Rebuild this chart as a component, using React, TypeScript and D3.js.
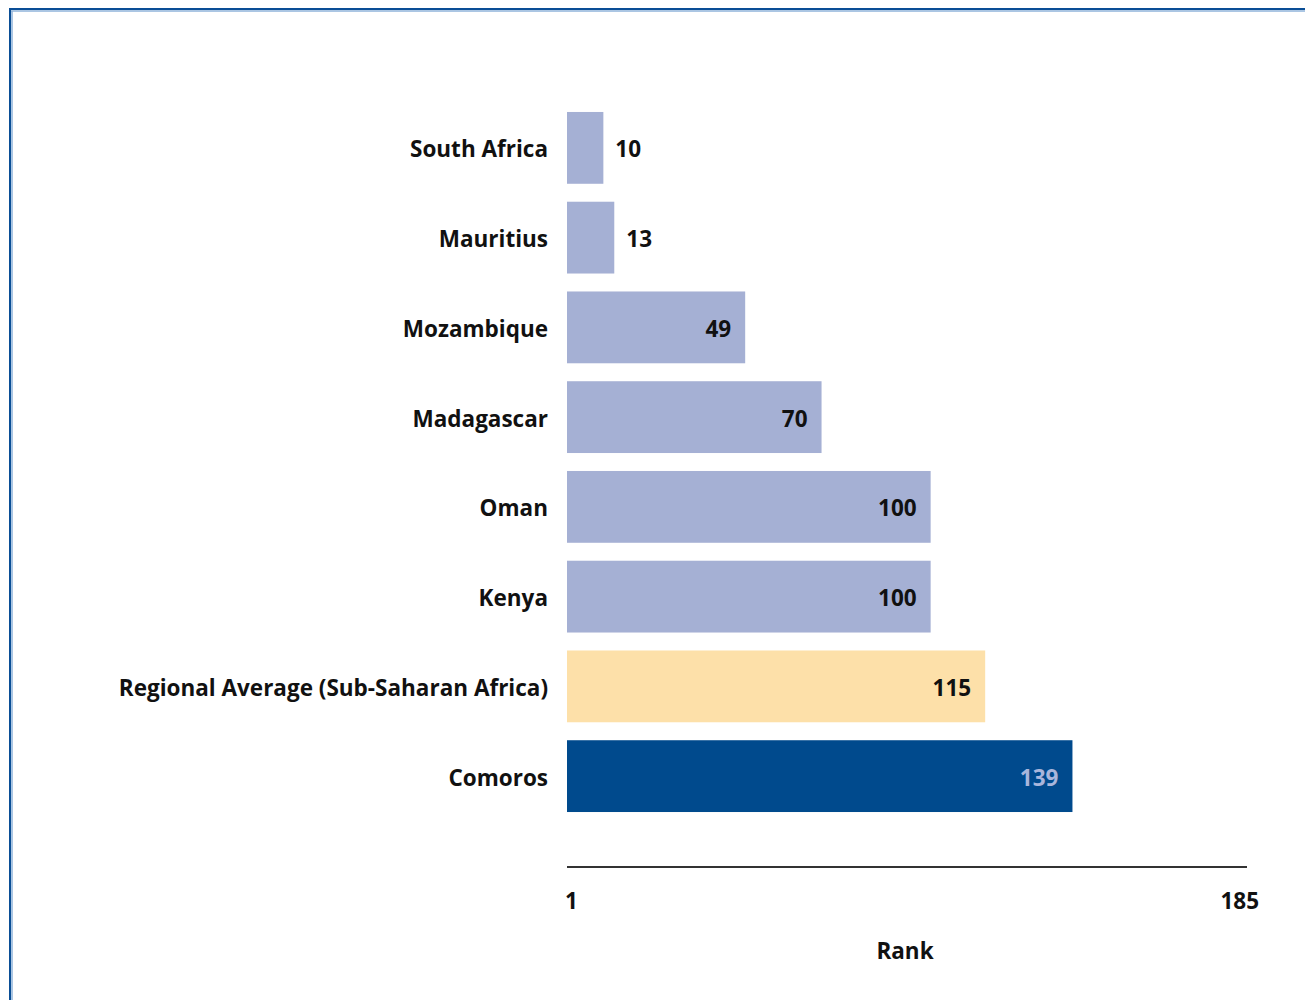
import React from "react";
import * as d3 from "d3";

const categories = [
  "South Africa",
  "Mauritius",
  "Mozambique",
  "Madagascar",
  "Oman",
  "Kenya",
  "Regional Average (Sub-Saharan Africa)",
  "Comoros",
];
const values = [10, 13, 49, 70, 100, 100, 115, 139];
const kinds = ["peer", "peer", "peer", "peer", "peer", "peer", "region", "focus"];
const axisTicks = [1, 185];
const axisTitle = "Rank";

const W = 1305;
const H = 1000;
const FONT = "'Open Sans', sans-serif";
const FS = 22.5;

const fillFor: Record<string, string> = {
  peer: "#a5b0d4",
  region: "#fde0a9",
  focus: "#004a8d",
};

export default function App() {
  const x = d3.scaleLinear().domain([0, 187]).range([567, 1247]);
  const y = d3
    .scaleBand<string>()
    .domain(categories)
    .range([103, 821])
    .paddingInner(0.2)
    .paddingOuter(0.1);

  return (
    <svg
      width={W}
      height={H}
      style={{ position: "absolute", left: 0, top: 0, background: "#fff" }}
      fontFamily={FONT}
    >
      <rect x={0} y={0} width={W} height={H} fill="#fff" />
      {/* frame */}
      <line x1={9} y1={9} x2={W} y2={9} stroke="#0a4e96" strokeWidth={2} />
      <line x1={9} y1={11} x2={W} y2={11} stroke="#8fb3da" strokeWidth={1.5} />
      <line x1={10} y1={9} x2={10} y2={H} stroke="#0a4e96" strokeWidth={2} />
      <line x1={12} y1={11} x2={12} y2={H} stroke="#8fb3da" strokeWidth={1.5} />

      {categories.map((c, i) => {
        const v = values[i];
        const y0 = y(c)!;
        const bw = y.bandwidth();
        const x0 = x(0);
        const x1 = x(v);
        const inside = x1 - x0 > 80;
        return (
          <g key={c}>
            <rect
              x={x0}
              y={y0}
              width={x1 - x0}
              height={bw}
              fill={fillFor[kinds[i]]}
            />
            <text
              x={548}
              y={y0 + bw / 2 + 1}
              textAnchor="end"
              dominantBaseline="central"
              fontSize={FS}
              fontWeight={700}
              fill="#111"
            >
              {c}
            </text>
            <text
              x={inside ? x1 - 14 : x1 + 12}
              y={y0 + bw / 2 + 1}
              textAnchor={inside ? "end" : "start"}
              dominantBaseline="central"
              fontSize={FS}
              fontWeight={700}
              fill={kinds[i] === "focus" ? "#a9b6dc" : "#111"}
            >
              {v}
            </text>
          </g>
        );
      })}

      {/* axis */}
      <line x1={x.range()[0]} x2={x.range()[1]} y1={867} y2={867} stroke="#333" strokeWidth={2} />
      {axisTicks.map((t, i) => (
        <text
          key={t}
          x={i === 0 ? x(0) - 2 : x(t)}
          y={900}
          textAnchor={i === 0 ? "start" : "middle"}
          dominantBaseline="central"
          fontSize={FS}
          fontWeight={700}
          fill="#111"
        >
          {t}
        </text>
      ))}
      <text
        x={905}
        y={950}
        textAnchor="middle"
        dominantBaseline="central"
        fontSize={FS}
        fontWeight={700}
        fill="#111"
      >
        {axisTitle}
      </text>
    </svg>
  );
}
